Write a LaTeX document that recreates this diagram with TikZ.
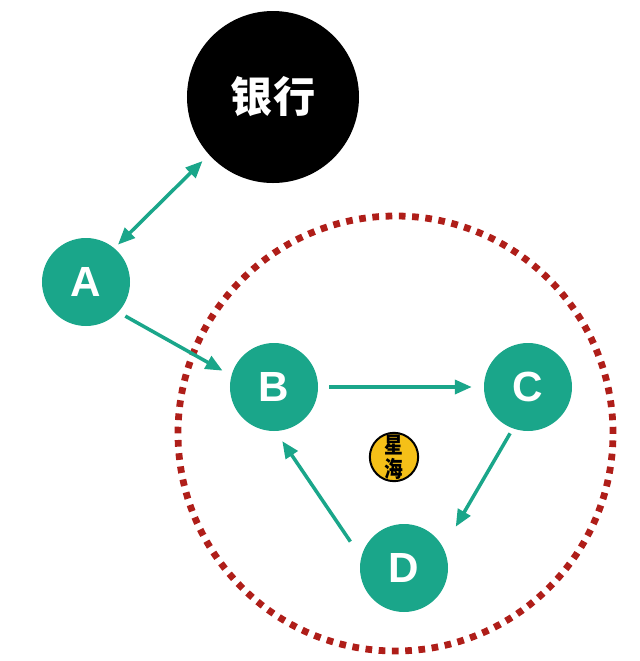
\documentclass[tikz,border=0pt]{standalone}
\usepackage{fontspec}
\setmainfont{Liberation Sans}
\newfontfamily\cjk{Noto Sans CJK SC}
\usetikzlibrary{arrows.meta}
\definecolor{memberteal}{RGB}{26,166,138}
\definecolor{ringred}{RGB}{175,30,25}
\definecolor{logoyellow}{RGB}{245,192,24}

\begin{document}
\begin{tikzpicture}[x=0.03cm, y=-0.03cm,
    member/.style={circle, fill=memberteal, minimum size=2.64cm, inner sep=0pt,
      text=white, font=\bfseries\fontsize{36}{36}\selectfont},
    bank/.style={circle, fill=black, minimum size=5.16cm, inner sep=0pt,
      text=white, font=\cjk\bfseries\fontsize{36}{36}\selectfont},
    logo/.style={circle, fill=logoyellow, draw=black, line width=1.7pt,
      minimum size=1.45cm, inner sep=0pt, font=\cjk\bfseries\fontsize{16}{16}\selectfont},
    link/.style={draw=memberteal, line width=3pt,
      >={Triangle[length=14.5pt,width=12pt]}, ->},
    ring/.style={draw=ringred, line width=5.8pt, dash pattern=on 0.2cm off 0.198cm}]
    \useasboundingbox (0,0) rectangle (640,661);
    % the trusted bank and the circle of peers
    \node[bank] (bank) at (273,97) {银行};
    \draw[ring] (395.5,433.5) circle[radius=6.525cm];
    \foreach \name/\x/\y in {A/86/282, B/274/387, C/528/387, D/404/568}
    {
      \node[member] (\name) at (\x,\y) {\name};
    }
    \node[logo] (logo) at (394,457) {\scalebox{1}[1.2]{\shortstack{星\\[-1pt]海}}};
    % connectors
    \draw[link, <->, shorten <=0.15cm, shorten >=0.27cm] (A.50) -- (bank.222);
    \draw[link, shorten <=0.24cm, shorten >=0.3cm] (A.-43) -- (B.165);
    \draw[link, shorten <=0.33cm, shorten >=0.36cm] (B.0) -- (C.180);
    \draw[link, shorten <=0.165cm, shorten >=0.735cm] (C.250) -- (D.27);
    \draw[link, shorten <=0.57cm, shorten >=0.36cm] (D.166) -- (B.272);
\end{tikzpicture}
\end{document}
